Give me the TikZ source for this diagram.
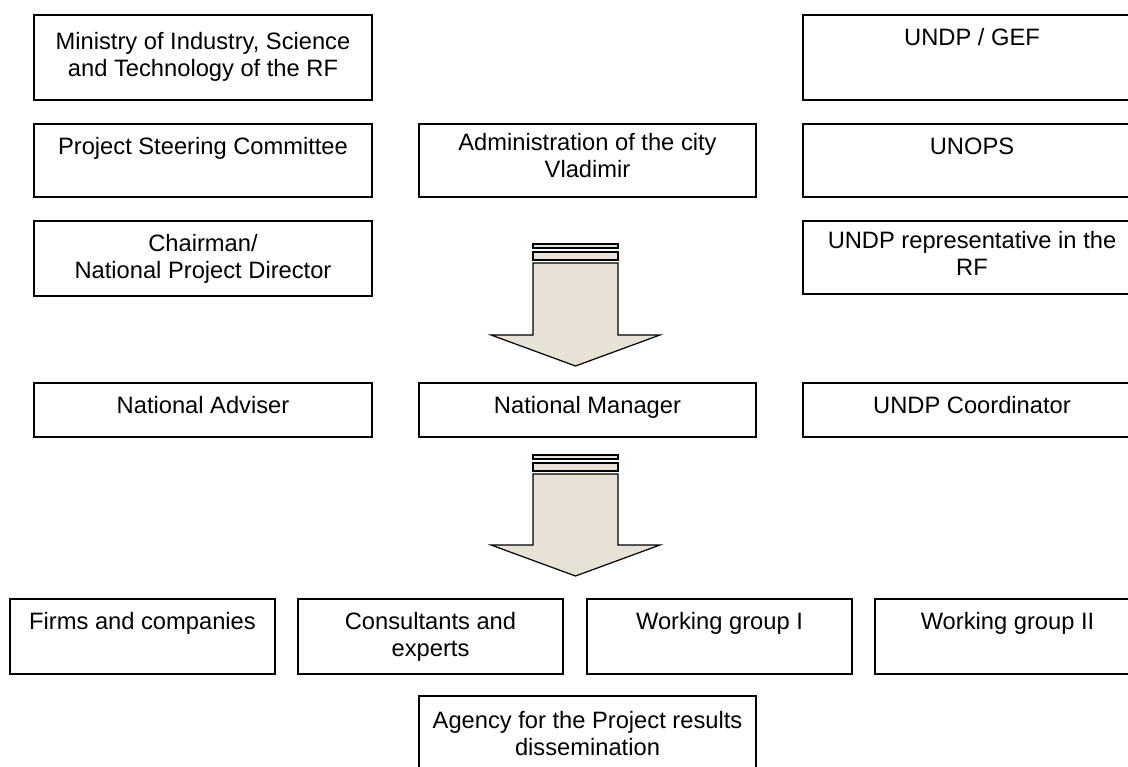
\documentclass[tikz,border=0pt]{standalone}
\usepackage{fontspec}
\setmainfont{Liberation Sans}
\usepackage{xcolor}
\usepackage{tikz}
\usetikzlibrary{positioning}
\definecolor{arrowfill}{RGB}{232,226,214}

\begin{document}
\begin{tikzpicture}[
    x=1pt, y=-1pt,
    orgbox/.style={draw, line width=1.4pt, inner sep=0pt},
    colbox/.style={orgbox, minimum width=338pt},
    smallbox/.style={orgbox, minimum width=265pt, minimum height=75pt},
    boxlbl/.style={anchor=north, inner sep=0pt, align=center, yshift=-14pt,
        font=\fontsize{23.7}{26.7}\selectfont},
    blockarrow/.style={draw, line width=1.2pt, fill=arrowfill, line join=miter}
]
\clip (0,0) rectangle (1128,767);
\fill[white] (0,0) rectangle (1128,767);

% top three rows
\node[colbox, minimum height=85pt,
  label={[boxlbl, yshift=-4pt]north:Ministry of Industry, Science\\and Technology of the RF}] (ministry) at (203,57.5) {};
\node[colbox, minimum height=85pt, label={[boxlbl]north:UNDP / GEF}] (gef) at (972,57.5) {};

\node[colbox, minimum height=73pt, label={[boxlbl]north:Project Steering Committee}] (steering) at (203,160.5) {};
\node[colbox, minimum width=337pt, minimum height=73pt,
  label={[boxlbl, yshift=4pt]north:Administration of the city\\Vladimir}] (admin) at (587.5,160.5) {};
\node[colbox, minimum height=73pt, label={[boxlbl]north:UNOPS}] (unops) at (972,160.5) {};

\node[colbox, minimum height=75pt, label={[boxlbl]north:Chairman/\\National Project Director}] (chairman) at (203,258.5) {};
\node[colbox, minimum height=73pt,
  label={[boxlbl, yshift=3pt]north:UNDP representative in the\\RF}] (undprep) at (972,257.5) {};

% managers
\node[colbox, minimum height=54pt, label={[boxlbl]north:National Adviser}] (adviser) at (203,410) {};
\node[colbox, minimum width=337pt, minimum height=54pt, label={[boxlbl]north:National Manager}] (manager) at (587.5,410) {};
\node[colbox, minimum height=54pt, label={[boxlbl]north:UNDP Coordinator}] (coordinator) at (972,410) {};

% executors
\node[smallbox, label={[boxlbl]north:Firms and companies}] (firms) at (142.5,636.5) {};
\node[smallbox, label={[boxlbl]north:Consultants and\\experts}] (consultants) at (430.5,636.5) {};
\node[smallbox, label={[boxlbl]north:Working group I}] (wgone) at (719.5,636.5) {};
\node[smallbox, label={[boxlbl]north:Working group II}] (wgtwo) at (1007.5,636.5) {};
\node[colbox, minimum width=337pt, minimum height=75pt,
  label={[boxlbl, yshift=-2pt]north:Agency for the Project results\\dissemination}] (agency) at (587.5,733.5) {};

% block arrows
\draw[blockarrow] (533,244) rectangle (618,248);
\draw[blockarrow] (533,252) rectangle (618,260);
\draw[blockarrow] (533,263) -- (618,263) -- (618,335) -- (660,335) -- (575.5,366)
  -- (491,335) -- (533,335) -- cycle;

\draw[blockarrow] (533,455) rectangle (618,459);
\draw[blockarrow] (533,463) rectangle (618,471);
\draw[blockarrow] (533,474) -- (618,474) -- (618,545) -- (660,545) -- (575.5,576)
  -- (491,545) -- (533,545) -- cycle;
\end{tikzpicture}
\end{document}
